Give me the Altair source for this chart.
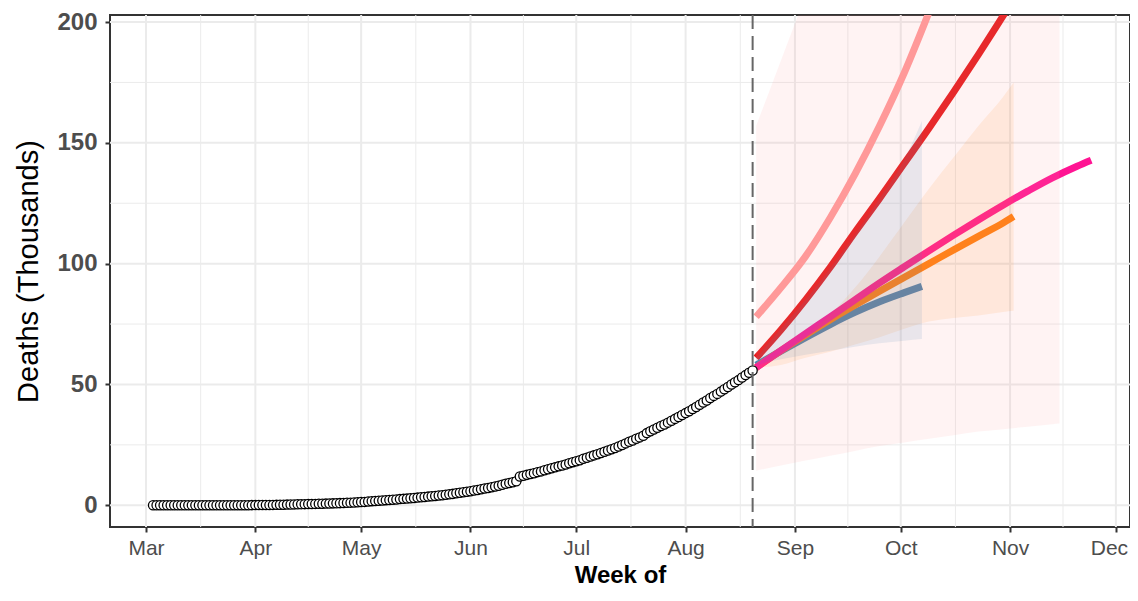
import altair as alt
import pandas as pd

# ---------------- data ----------------
# observed cumulative deaths (thousands), daily from 2020-03-03
deaths_mar = [0, 0, 0, 0, 0, 0, 0, 0, 0.001, 0.002, 0.002, 0.002, 0.002, 0.003, 0.003, 0.004, 0.004,
              0.007, 0.007, 0.009, 0.010, 0.011, 0.013, 0.017, 0.020, 0.025, 0.029, 0.035, 0.050]
deaths_apr = [0.058, 0.072, 0.086, 0.109, 0.124, 0.149, 0.169, 0.206, 0.239, 0.273, 0.324, 0.353, 0.392,
              0.420, 0.452, 0.488, 0.521, 0.559, 0.592, 0.645, 0.681, 0.721, 0.780, 0.825, 0.881, 0.939,
              1.008, 1.079, 1.154, 1.223]
deaths_may = [1.323, 1.391, 1.568, 1.694, 1.783, 1.886, 1.981, 2.109, 2.206, 2.293, 2.415, 2.549, 2.649,
              2.752, 2.872, 3.029, 3.163, 3.303, 3.435, 3.583, 3.720, 3.867, 4.021, 4.167, 4.337, 4.531,
              4.706, 4.971, 5.164, 5.394, 5.598]
deaths_jun = [5.815, 6.075, 6.348, 6.642, 6.929, 7.135, 7.466, 7.745, 8.102, 8.498, 8.884, 9.195, 9.520,
              9.900, 11.903, 12.237, 12.573, 12.948, 13.254, 13.699, 14.011, 14.476, 14.894, 15.301,
              15.685, 16.095, 16.475, 16.893, 17.400, 17.834]
deaths_jul = [18.213, 18.655, 19.268, 19.693, 20.160, 20.642, 21.129, 21.604, 22.123, 22.674, 23.174,
              23.727, 24.309, 24.915, 25.602, 26.273, 26.816, 27.497, 28.084, 28.732, 29.861, 30.601,
              31.358, 32.063, 32.771, 33.408, 34.193, 35.003, 35.747, 36.511, 37.364]
deaths_aug = [38.135, 38.938, 39.795, 40.699, 41.585, 42.518, 43.379, 44.386, 45.257, 46.091, 47.033,
              48.040, 48.945, 49.980, 50.921, 51.797, 52.889, 53.866, 54.849, 55.794]
deaths = deaths_mar + deaths_apr + deaths_may + deaths_jun + deaths_jul + deaths_aug
obs_dates = [d.strftime("%Y-%m-%dT00:00:00Z")
             for d in pd.date_range("2020-03-03", periods=len(deaths), freq="D")]

forecast_start = "2020-08-20"

wk = ["2020-08-21", "2020-08-28", "2020-09-04", "2020-09-11", "2020-09-18", "2020-09-25",
      "2020-10-02", "2020-10-09", "2020-10-16", "2020-10-23", "2020-10-30", "2020-11-06",
      "2020-11-13", "2020-11-20"]

# forecast lines
salmon_dates = wk[:9]
salmon_vals = [78, 90, 103, 119, 137, 157, 179, 204, 230]

red_dates = wk[:12]
red_vals = [61, 72.5, 85, 98.5, 113, 127, 141.5, 156, 171, 186.5, 202.5, 218.5]

blue_dates = wk[:7] + ["2020-10-07"]
blue_vals = [58, 63.8, 69.4, 74.8, 79.8, 84.2, 88.0, 90.6]
blue_lo = [58, 60.4, 62.3, 63.9, 65.6, 67.0, 68.1, 68.8]
blue_hi = [61, 73, 85, 98, 112, 127, 143, 159]

orange_dates = wk[:11] + ["2020-11-02"]
orange_vals = [57, 64, 70.5, 76.8, 82.8, 88.6, 94.3, 100, 105.7, 111.3, 116.8, 119.5]
orange_lo = [57, 58, 61, 63.5, 66.5, 69.5, 73, 76, 77.5, 78.5, 80, 80.5]
orange_hi = [57, 63, 70, 79, 90, 103, 117, 131, 144, 157, 169, 175]

pink_dates = wk + ["2020-11-24"]
pink_vals = [57, 64, 71, 78, 85, 92, 98.7, 105.3, 111.8, 118.1, 124.2, 130, 135.5, 140.3, 142.8]

band_dates = wk[:13] + ["2020-11-15"]
band_lo = [14.3, 16.5, 18.5, 20.5, 22.5, 24.5, 26, 27.5, 29, 30.5, 31.5, 32.5, 33.5, 33.8]
band_hi = [157, 184, 211, 240, 270, 300, 330, 360, 390, 420, 450, 480, 500, 505]

month_starts = ["2020-03-01", "2020-04-01", "2020-05-01", "2020-06-01", "2020-07-01",
                "2020-08-01", "2020-09-01", "2020-10-01", "2020-11-01", "2020-12-01"]
y_major = [0, 50, 100, 150, 200]
y_minor = [25, 75, 125, 175]

# ---------------- helpers ----------------
def z(d):
    return d + "T00:00:00Z" if "T" not in d else d

def dt(s, hours=0):
    y, m, d = [int(p) for p in s.split("-")]
    return alt.DateTime(year=y, month=m, date=d, hours=hours, utc=True)

xscale = alt.Scale(type="utc", domain=[dt("2020-02-19", 19), dt("2020-12-05", 0)])
yscale = alt.Scale(domain=[-9.0, 202.9], nice=False, zero=False)

FONT = "Liberation Sans"
xaxis = alt.Axis(values=[dt(m) for m in month_starts], format="%b", grid=False, domain=False,
                 labelFont=FONT, labelFontSize=21, labelColor="#4D4D4D", labelPadding=5,
                 labelOffset={"condition": {"test": "utcmonth(datum.value) == 11", "value": -7},
                              "value": 0},
                 labelFlush=False, tickColor="#333333", tickSize=5, tickWidth=2,
                 title="Week of", titleFont=FONT, titleFontSize=24, titleFontWeight="bold",
                 titleColor="black", titleBaseline="alphabetic", titleY=55)
yaxis = alt.Axis(values=y_major, grid=False, domain=False,
                 labelFont=FONT, labelFontSize=24, labelFontWeight="bold", labelColor="#4D4D4D",
                 labelPadding=8, tickColor="#333333", tickSize=5, tickWidth=2,
                 title="Deaths (Thousands)", titleFont=FONT, titleFontSize=29,
                 titleFontWeight="normal", titleColor="black", titleAngle=270,
                 titleAlign="center", titleBaseline="bottom", titleX=-67, titleY=256)

def X(field):
    return alt.X(field, type="temporal", scale=xscale, axis=xaxis)

def Y(field):
    return alt.Y(field, type="quantitative", scale=yscale, axis=yaxis)

# ---------------- grid ----------------
ms = pd.to_datetime(month_starts)
mid = [(ms[i] + (ms[i + 1] - ms[i]) / 2).strftime("%Y-%m-%dT%H:%M:%SZ") for i in range(len(ms) - 1)]
grid_x_major = alt.Chart(pd.DataFrame({"d": [z(m) for m in month_starts]})).mark_rule(
    color="#EBEBEB", strokeWidth=2).encode(x=X("d"))
grid_x_minor = alt.Chart(pd.DataFrame({"d": mid})).mark_rule(
    color="#EBEBEB", strokeWidth=1).encode(x=X("d"))
grid_y_major = alt.Chart(pd.DataFrame({"v": y_major})).mark_rule(
    color="#EBEBEB", strokeWidth=2).encode(y=Y("v"))
grid_y_minor = alt.Chart(pd.DataFrame({"v": y_minor})).mark_rule(
    color="#EBEBEB", strokeWidth=1).encode(y=Y("v"))

# ---------------- lines ----------------
def line(dates, vals, color):
    df = pd.DataFrame({"d": [z(d) for d in dates], "v": vals})
    return alt.Chart(df).mark_line(color=color, strokeWidth=7, strokeCap="butt", clip=True,
                                   interpolate="monotone").encode(x=X("d"), y=Y("v"))

def band(dates, lo, hi, color, op):
    df = pd.DataFrame({"d": [z(d) for d in dates], "lo": lo, "hi": hi})
    return alt.Chart(df).mark_area(color=color, opacity=op, clip=True,
                                   interpolate="monotone").encode(x=X("d"), y=Y("lo"), y2="hi")

lines = [
    line(salmon_dates, salmon_vals, "#FF9999"),
    line(red_dates, red_vals, "#E41A1C"),
    line(blue_dates, blue_vals, "#4682B4"),
    line(orange_dates, orange_vals, "#FF7F0E"),
    line(pink_dates, pink_vals, "#FF1493"),
]
bands = [
    band(band_dates, band_lo, band_hi, "#FF9999", 0.12),
    band(orange_dates, orange_lo, orange_hi, "#FF7F0E", 0.10),
    band(blue_dates, blue_lo, blue_hi, "#4682B4", 0.12),
]

obs = alt.Chart(pd.DataFrame({"d": obs_dates, "v": deaths})).mark_point(
    shape="circle", filled=True, fill="white", stroke="black", strokeWidth=1.3,
    size=85, opacity=1).encode(x=X("d"), y=Y("v"))

vline = alt.Chart(pd.DataFrame({"d": [z(forecast_start)]})).mark_rule(
    color="#666666", strokeWidth=2, strokeDash=[14, 7]).encode(x=X("d"))

chart = alt.layer(
    grid_x_minor, grid_y_minor, grid_x_major, grid_y_major,
    *lines, *bands, obs, vline
).properties(
    width=1020, height=512,
    autosize="none",
    padding={"left": 102, "top": 7, "right": 0, "bottom": 61},
    background="white",
).configure_view(stroke="#333333", strokeWidth=2)

chart.save("out.html", embed_options={"renderer": "svg", "actions": False})
